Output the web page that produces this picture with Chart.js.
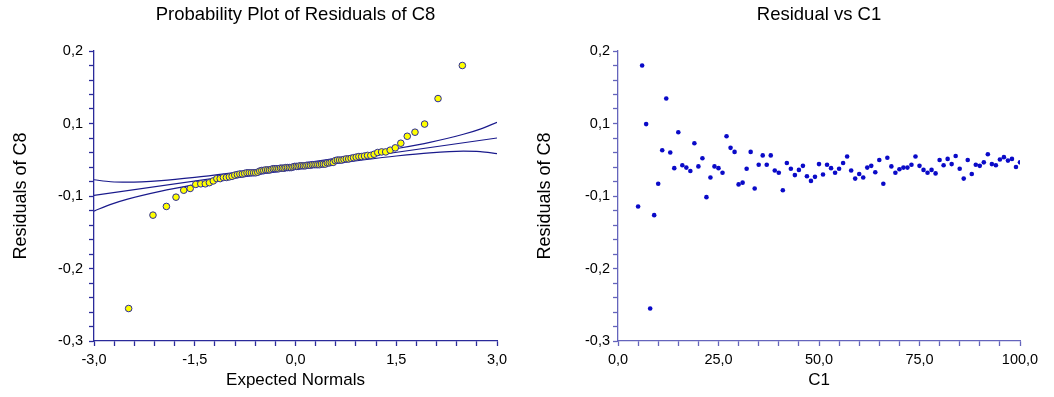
<!DOCTYPE html>
<html>
<head>
<meta charset="utf-8">
<script src="https://cdn.jsdelivr.net/npm/chart.js@4"></script>
<style>
  body { margin: 0; background: #fff; }
  .box { position: absolute; top: 0; width: 527px; height: 397px; }
</style>
</head>
<body>
<div class="box" style="left:0"><canvas id="probChart" width="527" height="397"></canvas></div>
<div class="box" style="left:527px"><canvas id="residChart" width="527" height="397"></canvas></div>
<script>
// residuals of C8 against C1
const c1Values = [5, 6, 7, 8, 9, 10, 11, 12, 13, 14, 15, 16, 17, 18, 19, 20, 21, 22, 23, 24, 25, 26, 27, 28, 29, 30,
  31, 32, 33, 34, 35, 36, 37, 38, 39, 40, 41, 42, 43, 44, 45, 46, 47, 48, 49, 50, 51, 52, 53, 54, 55, 56, 57, 58, 59, 60,
  61, 62, 63, 64, 65, 66, 67, 68, 69, 70, 71, 72, 73, 74, 75, 76, 77, 78, 79, 80, 81, 82, 83, 84, 85, 86, 87, 88, 89, 90,
  91, 92, 93, 94, 95, 96, 97, 98, 99, 100];
const residuals = [-0.068, 0.175, 0.074, -0.244, -0.083, -0.029, 0.029, 0.118, 0.025, -0.002, 0.060, 0.003, -0.001, -0.007,
  0.041, 0.001, 0.015, -0.052, -0.018, 0.001, -0.002, -0.010, 0.053, 0.033, 0.026, -0.030, -0.027, -0.003, 0.026, -0.037,
  0.004, 0.020, 0.004, 0.020, -0.006, -0.010, -0.040, 0.007, -0.003, -0.014, -0.005, 0.002, -0.016, -0.024, -0.017, 0.005,
  -0.013, 0.004, -0.002, -0.010, -0.003, 0.007, 0.018, -0.006, -0.020, -0.012, -0.018, -0.001, 0.002, -0.009, 0.012, -0.029,
  0.016, 0.001, -0.010, -0.004, -0.001, -0.001, 0.004, 0.018, 0.002, -0.005, -0.010, -0.005, -0.011, 0.012, 0.003, 0.014,
  0.005, 0.019, -0.003, -0.020, 0.012, -0.012, 0.004, 0.002, 0.008, 0.022, 0.005, 0.003, 0.013, 0.017, 0.011, 0.014,
  0.000, 0.008];

// expected normal scores, one per ranked residual
const expectedNormals = [-2.484, -2.122, -1.922, -1.779, -1.664, -1.568, -1.485, -1.410, -1.343, -1.282, -1.224, -1.171,
  -1.121, -1.073, -1.028, -0.985, -0.944, -0.904, -0.865, -0.828, -0.792, -0.757, -0.722, -0.689, -0.656, -0.624, -0.593,
  -0.562, -0.532, -0.502, -0.473, -0.444, -0.415, -0.387, -0.359, -0.331, -0.304, -0.277, -0.250, -0.223, -0.197, -0.170,
  -0.144, -0.118, -0.091, -0.065, -0.039, -0.013, 0.013, 0.039, 0.065, 0.091, 0.118, 0.144, 0.170, 0.197, 0.223, 0.250,
  0.277, 0.304, 0.331, 0.359, 0.387, 0.415, 0.444, 0.473, 0.502, 0.532, 0.562, 0.593, 0.624, 0.656, 0.689, 0.722, 0.757,
  0.792, 0.828, 0.865, 0.904, 0.944, 0.985, 1.028, 1.073, 1.121, 1.171, 1.224, 1.282, 1.343, 1.410, 1.485, 1.568, 1.664,
  1.779, 1.922, 2.122, 2.484];

// fit line and confidence curves
const fitX = [-3, 3];
const fitY = [-0.049, 0.050];
const bandX = [-3, -2.75, -2.5, -2, -1.5, -1, -0.5, 0, 0.5, 1, 1.5, 2, 2.5, 2.75, 3];
const bandUpper = [-0.022, -0.0254, -0.0262, -0.0235, -0.018, -0.0111, -0.0035, 0.0046, 0.0131, 0.0219, 0.0316, 0.0425,
  0.0564, 0.0654, 0.077];
const bandLower = [-0.076, -0.0644, -0.0554, -0.0415, -0.0306, -0.0209, -0.0121, -0.0036, 0.0045, 0.0121, 0.019, 0.0245,
  0.0272, 0.0264, 0.023];

// tick labels (every 5th tick carries one)
const yTickLabels = ["-0,3", "-0,2", "-0,1", "0,1", "0,2"];
const probXTickLabels = ["-3,0", "-1,5", "0,0", "1,5", "3,0"];
const c1TickLabels = ["0,0", "25,0", "50,0", "75,0", "100,0"];

const FONT = "'Liberation Sans', Arial, sans-serif";
const NAVY = "#1a1a8c";

const pairs = (xs, ys) => xs.map((x, i) => ({ x: x, y: ys[i] }));
const sortedResiduals = residuals.slice().sort((a, b) => a - b);

const titlePlugin = {
  id: "plotTitle",
  afterDraw(chart, args, opts) {
    const { ctx, chartArea } = chart;
    ctx.save();
    ctx.font = "18.5px " + FONT;
    ctx.fillStyle = "#000";
    ctx.textAlign = "center";
    ctx.textBaseline = "middle";
    ctx.fillText(opts.text, (chartArea.left + chartArea.right) / 2, 15);
    ctx.restore();
  }
};

function every5(labels) {
  return (value, index) => (index % 5 === 0 ? labels[index / 5] : "");
}

function axes(cfg) {
  return {
    x: {
      type: "linear", min: cfg.xMin, max: cfg.xMax,
      afterFit: s => { s.height = 56; },
      border: { display: true, color: cfg.axisColor, width: 1.3 },
      grid: { drawOnChartArea: false, color: cfg.axisColor, tickLength: 5, tickWidth: 1.3 },
      ticks: { stepSize: cfg.xStep, autoSkip: false, maxRotation: 0, padding: 5, color: "#000",
        font: { family: FONT, size: 14.5 }, callback: every5(cfg.xLabels) },
      title: { display: true, text: cfg.xTitle, color: "#000", font: { family: FONT, size: 17 },
        padding: { top: 0, bottom: 6 } }
    },
    y: {
      type: "linear", min: -0.3, max: 0.2,
      afterFit: s => { s.width = cfg.yWidth; },
      border: { display: true, color: cfg.axisColor, width: 1.3 },
      grid: { drawOnChartArea: false, color: cfg.axisColor, tickLength: 5, tickWidth: 1.3 },
      ticks: { stepSize: 0.025, autoSkip: false, padding: cfg.yPad, color: "#000",
        font: { family: FONT, size: 14.5 }, callback: every5(yTickLabels) },
      title: { display: true, text: "Residuals of C8", color: "#000", font: { family: FONT, size: 18 },
        padding: { top: cfg.yTitlePad, bottom: 0 } }
    }
  };
}

const commonOpts = {
  responsive: false,
  animation: false,
  devicePixelRatio: 1,
  plugins: { legend: { display: false }, tooltip: { enabled: false } }
};

const lineStyle = { showLine: true, pointRadius: 0, borderColor: NAVY, borderWidth: 1.2, fill: false };

new Chart(document.getElementById("probChart"), {
  type: "scatter",
  data: {
    datasets: [
      {
        label: "Residuals",
        data: pairs(expectedNormals, sortedResiduals),
        pointRadius: 3.3,
        pointBackgroundColor: "#ffff00",
        pointBorderColor: "#2a2a9a",
        pointBorderWidth: 1
      },
      Object.assign({ label: "Fit", data: pairs(fitX, fitY) }, lineStyle),
      Object.assign({ label: "Upper", data: pairs(bandX, bandUpper), cubicInterpolationMode: "monotone" }, lineStyle),
      Object.assign({ label: "Lower", data: pairs(bandX, bandLower), cubicInterpolationMode: "monotone" }, lineStyle)
    ]
  },
  options: Object.assign({}, commonOpts, {
    layout: { padding: { top: 51, right: 30, left: 0, bottom: 0 } },
    plugins: Object.assign({}, commonOpts.plugins, { plotTitle: { text: "Probability Plot of Residuals of C8" } }),
    scales: axes({ xMin: -3, xMax: 3, xStep: 0.3, xLabels: probXTickLabels, xTitle: "Expected Normals",
      axisColor: "#2a2a9a", yWidth: 94, yPad: 6, yTitlePad: 10 })
  }),
  plugins: [titlePlugin]
});

new Chart(document.getElementById("residChart"), {
  type: "scatter",
  data: {
    datasets: [{
      label: "Residual",
      data: pairs(c1Values, residuals),
      pointRadius: 2.3,
      pointBackgroundColor: "#0a0ac8",
      pointBorderColor: "#0a0ac8",
      pointBorderWidth: 0
    }]
  },
  options: Object.assign({}, commonOpts, {
    layout: { padding: { top: 51, right: 34, left: 0, bottom: 0 } },
    plugins: Object.assign({}, commonOpts.plugins, { plotTitle: { text: "Residual vs C1" } }),
    scales: axes({ xMin: 0, xMax: 100, xStep: 5, xLabels: c1TickLabels, xTitle: "C1",
      axisColor: "#6464bc", yWidth: 91, yPad: 3, yTitlePad: 7 })
  }),
  plugins: [titlePlugin]
});
</script>
</body>
</html>
